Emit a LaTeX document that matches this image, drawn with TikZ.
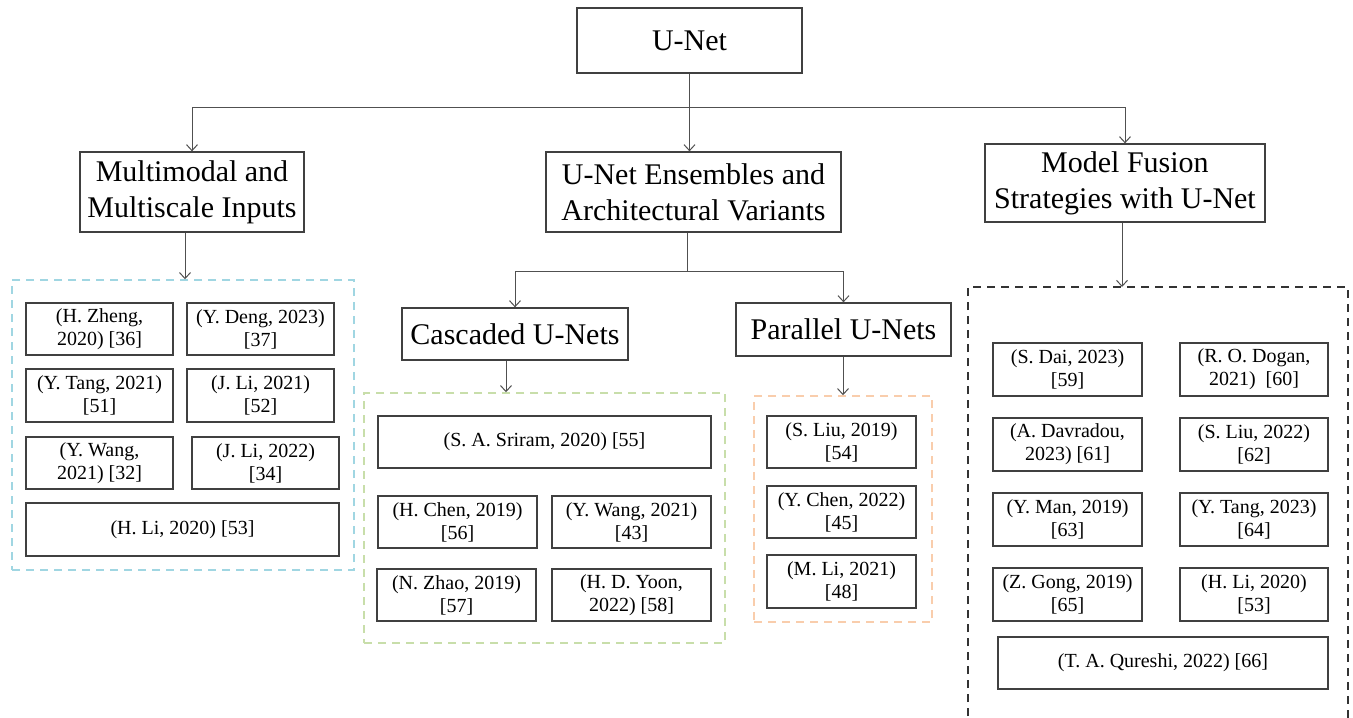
\documentclass[tikz,border=0pt]{standalone}
\usepackage{fontspec}
\setmainfont{Liberation Serif}
\usetikzlibrary{arrows.meta}
\definecolor{boxline}{HTML}{404040}
\definecolor{arrline}{HTML}{505050}
\definecolor{grpcyan}{HTML}{A0D6E2}
\definecolor{grpgreen}{HTML}{C8DEAA}
\definecolor{grporange}{HTML}{F9CDAC}
\definecolor{grpblack}{HTML}{333333}
\tikzset{
  hbox/.style={draw=boxline, line width=1.3pt, rectangle, align=center, inner sep=0pt,
    font=\fontsize{30}{36}\selectfont},
  cbox/.style={draw=boxline, line width=1.2pt, rectangle, align=center, inner sep=0pt,
    font=\fontsize{20}{23}\selectfont},
  grp/.style={draw, line width=1.5pt, dash pattern=on 8pt off 6pt, rectangle, inner sep=0pt},
  conn/.style={draw=arrline, line width=1pt},
  arr/.style={conn, -{Straight Barb[length=6pt,width=11pt,line width=1pt]}},
}
\begin{document}
\begin{tikzpicture}[x=1pt,y=-1pt]
\useasboundingbox (0,0) rectangle (1353,718);
\clip (0,0) rectangle (1353,718);
\fill[white] (0,0) rectangle (1353,718);

% top level
\node[hbox, minimum width=225pt, minimum height=65pt] (unet) at (689.5,40.5) {U-Net};
\node[hbox, minimum width=224pt, minimum height=80pt] (mm) at (192,192) {Multimodal and\\Multiscale Inputs};
\node[hbox, minimum width=295pt, minimum height=80pt] (ens) at (693.5,192) {U-Net Ensembles and\\Architectural Variants};
\node[hbox, minimum width=280pt, minimum height=78pt] (fus) at (1125,183) {Model Fusion\\Strategies with U-Net};

\coordinate (bus) at (689.5,107);
\draw[conn] (unet.south) -- (bus);
\draw[arr] (bus) -| (mm.north);
\draw[arr] (bus) -- (bus |- ens.north);
\draw[arr] (bus) -| (fus.north);

% second level
\node[hbox, minimum width=226pt, minimum height=52pt] (casc) at (515,334) {Cascaded U-Nets};
\node[hbox, minimum width=215pt, minimum height=53pt] (par) at (843.5,329.5) {Parallel U-Nets};
\coordinate (bus2) at (687,271);
\draw[conn] (bus2 |- ens.south) -- (bus2);
\draw[arr] (bus2) -| (casc.north);
\draw[arr] (bus2) -| (par.north);

% groups
\node[grp, draw=grpcyan, minimum width=342pt, minimum height=290pt] (g1) at (183,425) {};
\node[grp, draw=grpgreen, minimum width=361pt, minimum height=250pt] (g2) at (544.5,518) {};
\node[grp, draw=grporange, minimum width=178pt, minimum height=226pt] (g3) at (843,509) {};
\coordinate (g4tl) at (968,287);
\coordinate (g4tr) at (1348,287);
\draw[line width=1.5pt, dash pattern=on 8pt off 6pt, draw=grpblack] (g4tl |- 0,730) -- (g4tl) -- (g4tr) -- (g4tr |- 0,730);

\coordinate (a1) at (185,0);
\coordinate (a2) at (506,0);
\coordinate (a3) at (843,0);
\coordinate (a4) at (1122,0);
\draw[arr] (a1 |- mm.south) -- (a1 |- g1.north);
\draw[arr] (a2 |- casc.south) -- (a2 |- g2.north);
\draw[arr] (a3 |- par.south) -- (a3 |- g3.north);
\draw[arr] (a4 |- fus.south) -- (a4 |- g4tl);

% group 1
\node[cbox, minimum width=147pt, minimum height=52pt] (p1) at (99.5,329) {(H. Zheng,\\2020) [36]};
\node[cbox, minimum width=147pt, minimum height=52pt] (p2) at (260.5,329) {(Y. Deng, 2023)\\{[37]}};
\node[cbox, minimum width=147pt, minimum height=53pt] (p3) at (99.5,395.5) {(Y. Tang, 2021)\\{[51]}};
\node[cbox, minimum width=147pt, minimum height=53pt] (p4) at (260.5,395.5) {(J. Li, 2021)\\{[52]}};
\node[cbox, minimum width=147pt, minimum height=52pt] (p5) at (99.5,463) {(Y. Wang,\\2021) [32]};
\node[cbox, minimum width=147pt, minimum height=52pt] (p6) at (265.5,463) {(J. Li, 2022)\\{[34]}};
\node[cbox, minimum width=313pt, minimum height=53pt] (p7) at (182.5,529.5) {(H. Li, 2020) [53]};

% group 2
\node[cbox, minimum width=333pt, minimum height=52pt] (q1) at (544.5,442) {(S. A. Sriram, 2020) [55]};
\node[cbox, minimum width=159pt, minimum height=52pt] (q2) at (457.5,522) {(H. Chen, 2019)\\{[56]}};
\node[cbox, minimum width=159pt, minimum height=52pt] (q3) at (631.5,522) {(Y. Wang, 2021)\\{[43]}};
\node[cbox, minimum width=159pt, minimum height=52pt] (q4) at (456.5,595) {(N. Zhao, 2019)\\{[57]}};
\node[cbox, minimum width=159pt, minimum height=52pt] (q5) at (631.5,595) {(H. D. Yoon,\\2022) [58]};

% group 3
\node[cbox, minimum width=149pt, minimum height=52pt] (r1) at (841.5,442) {(S. Liu, 2019)\\{[54]}};
\node[cbox, minimum width=149pt, minimum height=52pt] (r2) at (841.5,512) {(Y. Chen, 2022)\\{[45]}};
\node[cbox, minimum width=149pt, minimum height=53pt] (r3) at (841.5,581.5) {(M. Li, 2021)\\{[48]}};

% group 4
\node[cbox, minimum width=149pt, minimum height=53pt] (s1) at (1067.5,369.5) {(S. Dai, 2023)\\{[59]}};
\node[cbox, minimum width=148pt, minimum height=53pt] (s2) at (1254,369.5) {(R. O. Dogan,\\2021)\ \ [60]};
\node[cbox, minimum width=149pt, minimum height=53pt] (s3) at (1067.5,444.5) {(A. Davradou,\\2023) [61]};
\node[cbox, minimum width=148pt, minimum height=53pt] (s4) at (1254,444.5) {(S. Liu, 2022)\\{[62]}};
\node[cbox, minimum width=149pt, minimum height=53pt] (s5) at (1067.5,519.5) {(Y. Man, 2019)\\{[63]}};
\node[cbox, minimum width=148pt, minimum height=53pt] (s6) at (1254,519.5) {(Y. Tang, 2023)\\{[64]}};
\node[cbox, minimum width=149pt, minimum height=53pt] (s7) at (1067.5,594.5) {(Z. Gong, 2019)\\{[65]}};
\node[cbox, minimum width=148pt, minimum height=53pt] (s8) at (1254,594.5) {(H. Li, 2020)\\{[53]}};
\node[cbox, minimum width=330pt, minimum height=52pt] (s9) at (1163,663) {(T. A. Qureshi, 2022) [66]};
\end{tikzpicture}
\end{document}
